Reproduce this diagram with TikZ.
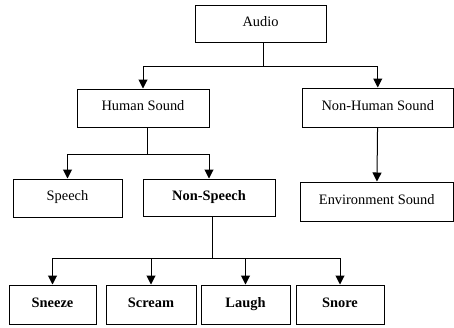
\documentclass[tikz,border=0pt]{standalone}
\usepackage{fontspec}
\setmainfont{Liberation Serif}
\usetikzlibrary{positioning,arrows.meta}

\begin{document}
\begin{tikzpicture}[x=1pt,y=-1pt,line width=1pt,>={Triangle[length=9pt,width=9pt]},
  box/.style={draw,inner sep=0pt,minimum height=38pt,text height=1.5ex,text depth=.35ex,
    font=\fontsize{14.4}{17}\selectfont},
  leaf/.style={box,font=\fontsize{14.4}{17}\selectfont\bfseries,minimum height=39pt}]
  \useasboundingbox (0,0) rectangle (454,327);
  \node[box,minimum width=131pt,minimum height=37pt] (audio) at (260.5,23.5) {Audio};
  \node[box,minimum width=132pt] (human) at (143,108) {Human Sound};
  \node[box,minimum width=151.5pt,minimum height=39pt] (nonhuman) at (377.75,107.5) {Non-Human Sound};
  \node[box,minimum width=109pt] (speech) at (67.5,198) {Speech};
  \node[box,font=\fontsize{14.4}{17}\selectfont\bfseries,minimum width=132pt,minimum height=37pt] (nonspeech) at (209,197.5) {Non-Speech};
  \node[box,minimum width=153.5pt,minimum height=39pt] (env) at (376.75,201.5) {Environment Sound};
  \node[leaf,minimum width=87pt] (sneeze) at (52.5,304.5) {Sneeze};
  \node[leaf,minimum width=90pt] (scream) at (151,304.5) {Scream};
  \node[leaf,minimum width=89pt] (laugh) at (245.5,304.5) {Laugh};
  \node[leaf,minimum width=88pt] (snore) at (340,304.5) {Snore};
  % junctions
  \coordinate (j1) at (263,66);
  \coordinate (j2) at (147,154);
  \coordinate (j3) at (212,258);
  \draw (audio.south -| j1) -- (j1);
  \draw[->] (j1) -| (human.north);
  \draw[->] (j1) -| (nonhuman.north);
  \draw (human.south -| j2) -- (j2);
  \draw[->] (j2) -| (speech.north);
  \draw[->] (j2) -| (nonspeech.north);
  \draw[->] (nonhuman) -- (env);
  \draw (nonspeech.south -| j3) -- (j3);
  \draw[->] (j3) -| (sneeze.north);
  \draw[->] (j3) -| (scream.north);
  \draw[->] (j3) -| (laugh.north);
  \draw[->] (j3) -| (snore.north);
\end{tikzpicture}
\end{document}
